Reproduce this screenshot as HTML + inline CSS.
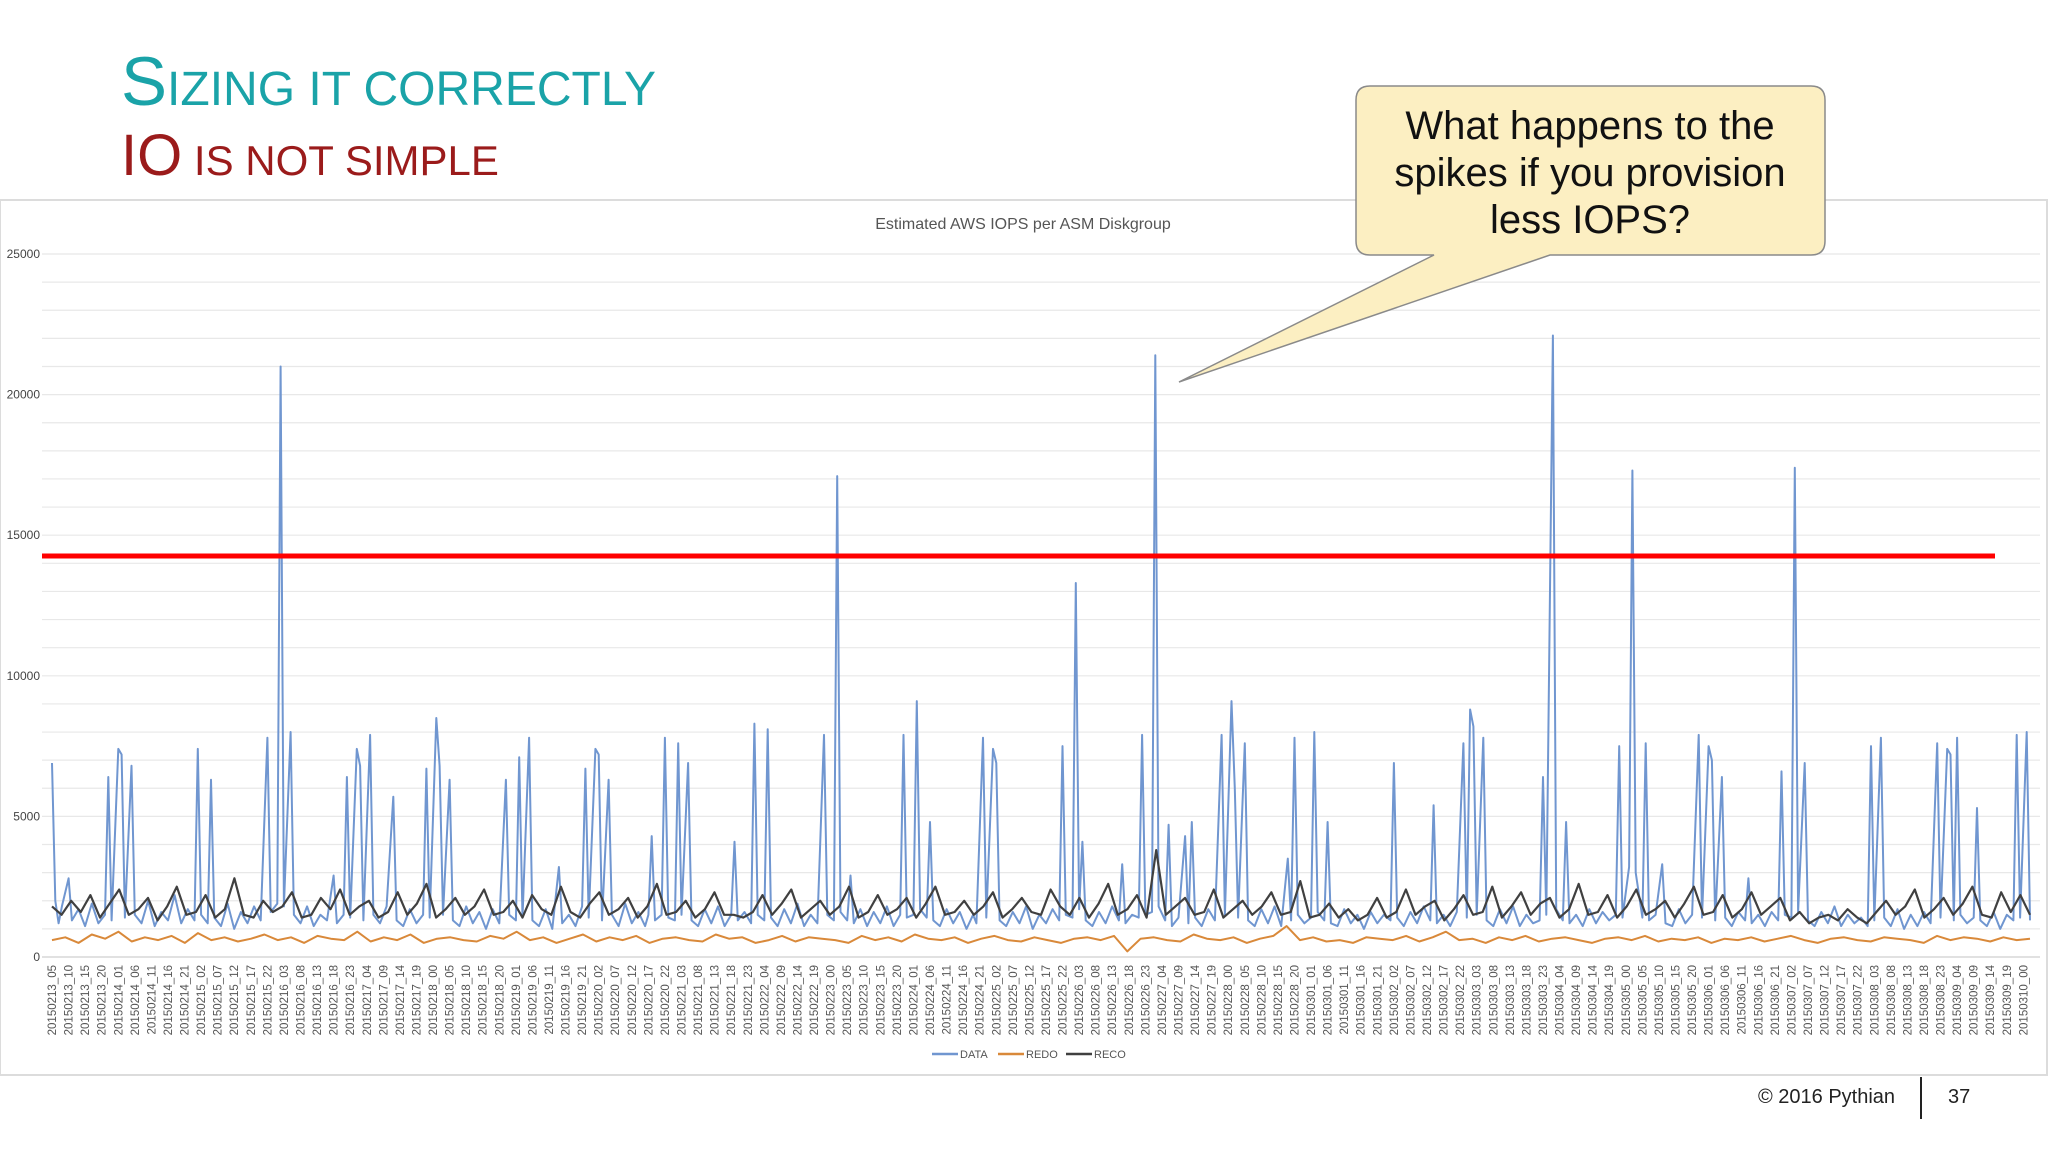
<!DOCTYPE html>
<html><head><meta charset="utf-8"><style>
html,body{margin:0;padding:0;background:#fff;}
body{width:2048px;height:1152px;position:relative;overflow:hidden;font-family:"Liberation Sans",sans-serif;}
.t1{position:absolute;left:121px;top:42px;color:#1aa3a8;font-size:48px;white-space:nowrap;}
.t1 .big{font-size:69px;}
.t2{position:absolute;left:121px;top:122px;color:#9b1b1b;font-size:42px;white-space:nowrap;}
.t2 .big{font-size:58px;}
#chart{position:absolute;left:0;top:0;}
.foot{position:absolute;top:1086px;font-size:20px;color:#222;}
</style></head><body>
<div class="t1"><span class="big">S</span>IZING IT CORRECTLY</div>
<div class="t2"><span class="big">IO</span> IS NOT SIMPLE</div>
<svg id="chart" width="2048" height="1152" xmlns="http://www.w3.org/2000/svg">
<rect x="0" y="200" width="2047" height="875" fill="#fff" stroke="#dcdcdc" stroke-width="2"/>
<g id="grid"></g><g id="xl"></g><g id="series"></g>
<text x="1023" y="229" font-size="16" fill="#555" text-anchor="middle" font-family="Liberation Sans, sans-serif">Estimated AWS IOPS per ASM Diskgroup</text>
<g font-size="11" fill="#555" font-family="Liberation Sans, sans-serif">
<line x1="932" y1="1054" x2="958" y2="1054" stroke="#7096d0" stroke-width="2.5"/><text x="960" y="1058">DATA</text>
<line x1="998" y1="1054" x2="1024" y2="1054" stroke="#d9893a" stroke-width="2.5"/><text x="1026" y="1058">REDO</text>
<line x1="1066" y1="1054" x2="1092" y2="1054" stroke="#404040" stroke-width="2.5"/><text x="1094" y="1058">RECO</text>
</g>
<g>
<path d="M1370 86 H1811 Q1825 86 1825 100 V241 Q1825 255 1811 255 H1550 L1179 382 L1434 255 H1370 Q1356 255 1356 241 V100 Q1356 86 1370 86 Z" fill="#fcefc2" stroke="#8a8a8a" stroke-width="1.5"/>
<text font-size="40" fill="#111" text-anchor="middle" font-family="Liberation Sans, sans-serif"><tspan x="1590" y="139">What happens to the</tspan><tspan x="1590" y="186">spikes if you provision</tspan><tspan x="1590" y="233">less IOPS?</tspan></text>
</g>
</svg>
<div class="foot" style="left:1758px">© 2016 Pythian</div>
<div style="position:absolute;left:1920px;top:1077px;width:2px;height:42px;background:#222"></div>
<div class="foot" style="left:1948px">37</div>
<script>
const yTicks=[0,5000,10000,15000,20000,25000];
const threshold=14260;
const dataPoints=[[0,6900],[1,2000],[2,1200],[3,1800],[5,2800],[6,1300],[8,1700],[10,1100],[12,1900],[14,1200],[16,1500],[17,6400],[18,1300],[20,7400],[21,7200],[22,1400],[24,6800],[25,1500],[27,1200],[29,2000],[31,1100],[33,1600],[35,1300],[37,2200],[39,1200],[41,1700],[43,1300],[44,7400],[45,1500],[47,1200],[48,6300],[49,1400],[51,1100],[53,1900],[55,1000],[57,1600],[59,1200],[61,1800],[63,1300],[65,7800],[66,1600],[68,1900],[69,21000],[70,1800],[72,8000],[73,1500],[75,1200],[77,1800],[79,1100],[81,1500],[83,1300],[85,2900],[86,1200],[88,1500],[89,6400],[90,1400],[92,7400],[93,6800],[94,1300],[96,7900],[97,1500],[99,1200],[101,1800],[103,5700],[104,1300],[106,1100],[108,1700],[110,1200],[112,1500],[113,6700],[114,1400],[116,8500],[117,6800],[118,1500],[120,6300],[121,1300],[123,1100],[125,1800],[127,1200],[129,1600],[131,1000],[133,1700],[135,1200],[137,6300],[138,1500],[140,1300],[141,7100],[142,1400],[144,7800],[145,1300],[147,1100],[149,1700],[151,1000],[153,3200],[154,1200],[156,1500],[158,1100],[160,1800],[161,6700],[162,1400],[164,7400],[165,7200],[166,1300],[168,6300],[169,1500],[171,1100],[173,1900],[175,1200],[177,1600],[179,1100],[180,1500],[181,4300],[182,1300],[184,1500],[185,7800],[186,1400],[188,1300],[189,7600],[190,1500],[192,6900],[193,1300],[195,1100],[197,1700],[199,1200],[201,1800],[203,1100],[205,1500],[206,4100],[207,1300],[209,1600],[211,1200],[212,8300],[213,1500],[215,1300],[216,8100],[217,1400],[219,1100],[221,1700],[223,1200],[225,1900],[227,1100],[229,1500],[231,1200],[233,7900],[234,1500],[236,1300],[237,17100],[238,1600],[240,1300],[241,2900],[242,1200],[244,1700],[246,1100],[248,1600],[250,1200],[252,1800],[254,1100],[256,1500],[257,7900],[258,1400],[260,1500],[261,9100],[262,1700],[264,1400],[265,4800],[266,1300],[268,1100],[270,1700],[272,1200],[274,1600],[276,1000],[278,1500],[279,1200],[281,7800],[282,1400],[284,7400],[285,6900],[286,1300],[288,1100],[290,1600],[292,1200],[294,1800],[296,1000],[298,1500],[300,1200],[302,1700],[304,1300],[305,7500],[306,1500],[308,1400],[309,13300],[310,1700],[311,4100],[312,1300],[314,1100],[316,1600],[318,1200],[320,1800],[322,1300],[323,3300],[324,1200],[326,1500],[328,1400],[329,7900],[330,1500],[332,1600],[333,21400],[334,1800],[336,1300],[337,4700],[338,1100],[340,1400],[342,4300],[343,1200],[344,4800],[345,1400],[347,1100],[349,1700],[351,1300],[353,7900],[354,1500],[356,9100],[357,6000],[358,1400],[360,7600],[361,1300],[363,1100],[365,1700],[367,1200],[369,1800],[371,1100],[373,3500],[374,1300],[375,7800],[376,1500],[378,1200],[380,1400],[381,8000],[382,1600],[384,1300],[385,4800],[386,1200],[388,1100],[390,1700],[392,1200],[394,1500],[396,1000],[398,1600],[400,1200],[402,1500],[404,1300],[405,6900],[406,1400],[408,1100],[410,1600],[412,1200],[414,1800],[416,1300],[417,5400],[418,1200],[420,1500],[422,1100],[424,1600],[426,7600],[427,1400],[428,8800],[429,8200],[430,1500],[432,7800],[433,1300],[435,1100],[437,1700],[439,1200],[441,1800],[443,1100],[445,1500],[447,1200],[449,1300],[450,6400],[451,1500],[453,22100],[454,1700],[456,1300],[457,4800],[458,1200],[460,1500],[462,1100],[464,1700],[466,1200],[468,1600],[470,1300],[472,1500],[473,7500],[474,1400],[476,3200],[477,17300],[478,3000],[480,1400],[481,7600],[482,1300],[484,1500],[486,3300],[487,1200],[489,1100],[491,1700],[493,1200],[495,1500],[497,7900],[498,1400],[500,7500],[501,7000],[502,1300],[504,6400],[505,1400],[507,1100],[509,1600],[511,1300],[512,2800],[513,1200],[515,1500],[517,1100],[519,1600],[521,1300],[522,6600],[523,1500],[525,1400],[526,17400],[527,1600],[529,6900],[530,1300],[532,1100],[534,1600],[536,1200],[538,1800],[540,1100],[542,1500],[544,1200],[546,1400],[548,1100],[549,7500],[550,1300],[552,7800],[553,1400],[555,1100],[557,1700],[559,1000],[561,1500],[563,1100],[565,1600],[567,1200],[569,7600],[570,1400],[572,7400],[573,7200],[574,1300],[575,7800],[576,1500],[578,1200],[580,1400],[581,5300],[582,1300],[584,1100],[586,1600],[588,1000],[590,1500],[592,1300],[593,7900],[594,1400],[596,8000],[597,1300]];
const recoValues=[1800,1500,2000,1600,2200,1400,1900,2400,1500,1700,2100,1300,1800,2500,1500,1600,2200,1400,1700,2800,1500,1400,2000,1600,1800,2300,1400,1500,2100,1700,2400,1500,1800,2000,1400,1600,2300,1500,1900,2600,1400,1700,2100,1500,1800,2400,1500,1600,2000,1400,2200,1700,1500,2500,1600,1400,1900,2300,1500,1700,2100,1400,1800,2600,1500,1600,2000,1400,1700,2300,1500,1500,1400,1600,2200,1500,1900,2400,1400,1700,2000,1500,1800,2500,1400,1600,2200,1500,1700,2100,1400,1900,2500,1500,1600,2000,1500,1800,2300,1400,1700,2100,1600,1500,2400,1800,1500,2100,1400,1900,2600,1500,1700,2200,1400,3800,1500,1800,2100,1500,1600,2400,1400,1700,2000,1500,1800,2300,1500,1600,2700,1400,1500,1900,1400,1700,1300,1500,2100,1400,1600,2400,1500,1800,2000,1300,1700,2200,1500,1600,2500,1400,1800,2300,1500,1900,2100,1400,1700,2600,1500,1600,2200,1400,1800,2400,1500,1700,2000,1400,1900,2500,1500,1600,2200,1400,1700,2300,1500,1800,2100,1300,1600,1200,1400,1500,1300,1700,1400,1200,1600,2000,1500,1800,2400,1400,1700,2100,1500,1900,2500,1500,1400,2300,1600,2200,1500];
const redoValues=[600,700,500,800,650,900,550,700,600,750,500,850,600,700,550,650,800,600,700,500,750,650,600,900,550,700,600,800,500,650,700,600,550,750,650,900,600,700,500,650,800,550,700,600,750,500,650,700,600,550,800,650,700,500,600,750,550,700,650,600,500,750,600,700,550,800,650,600,700,500,650,750,600,550,700,600,500,650,700,600,750,200,650,700,600,550,800,650,600,700,500,650,750,1100,600,700,550,600,500,700,650,600,750,550,700,900,600,650,500,700,600,750,550,650,700,600,500,650,700,600,750,550,650,600,700,500,650,600,700,550,650,750,600,500,650,700,600,550,700,650,600,500,750,600,700,650,550,700,600,650];
const totalHours=597;
const x0=52,x1=2030,y0=957,pxPer1000=28.12;
const X=h=>x0+(x1-x0)*h/totalHours;
const Y=v=>y0-v/1000*pxPer1000;
const NS="http://www.w3.org/2000/svg";
function mk(tag,attrs,parent){const e=document.createElementNS(NS,tag);for(const k in attrs)e.setAttribute(k,attrs[k]);parent.appendChild(e);return e;}
const grid=document.getElementById('grid');
for(let v=0;v<=25000;v+=1000){
 const l=mk('line',{x1:x0-10,x2:2040,y1:Y(v),y2:Y(v),stroke:v===0?'#cfcfcf':'#e8e8e8','stroke-width':1.2},grid);
 
 
}
yTicks.forEach(v=>{
 const t=mk('text',{x:40,y:Y(v)+4,'font-size':12,fill:'#444','text-anchor':'end','font-family':'Liberation Sans, sans-serif'},grid);
 t.textContent=v;
 
 
});
const xl=document.getElementById('xl');
const start=Date.UTC(2015,1,13,5);
for(let i=0;i<120;i++){
 const d=new Date(start+i*5*3600000);
 const s='2015'+String(d.getUTCMonth()+1).padStart(2,'0')+String(d.getUTCDate()).padStart(2,'0')+'_'+String(d.getUTCHours()).padStart(2,'0');
 const px=X(i*5)+4;
 const t=mk('text',{x:0,y:0,transform:`translate(${px},965) rotate(-90)`,'font-size':11.5,fill:'#555','text-anchor':'end','font-family':'Liberation Sans, sans-serif'},xl);
 t.textContent=s;
 
 
}
const ser=document.getElementById('series');
function poly(pts,color,name,w){
 const p=mk('polyline',{points:pts.map(q=>X(q[0]).toFixed(1)+','+Y(q[1]).toFixed(1)).join(' '),fill:'none',stroke:color,'stroke-width':w,'stroke-linejoin':'round'},ser);
 
 
}
poly(dataPoints,'#7096d0','data-series',2);
poly(redoValues.map((v,i)=>[i*totalHours/(redoValues.length-1),v]),'#d9893a','redo-series',2);
poly(recoValues.map((v,i)=>[i*totalHours/(recoValues.length-1),v]),'#404040','reco-series',2.2);
const th=mk('line',{x1:42,x2:1995,y1:Y(threshold),y2:Y(threshold),stroke:'#ff0000','stroke-width':5},ser);


</script>
</body></html>
